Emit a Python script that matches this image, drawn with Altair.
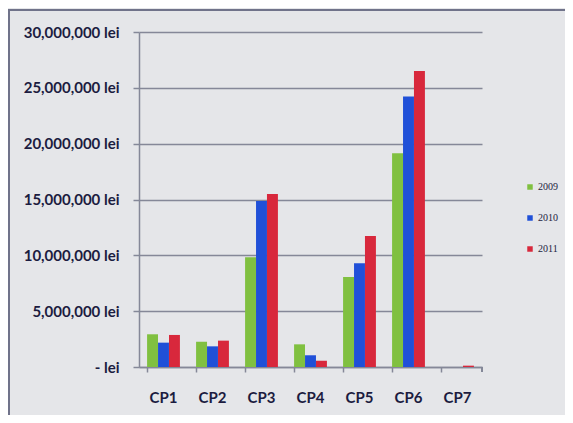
import altair as alt
import pandas as pd

categories = ["CP1", "CP2", "CP3", "CP4", "CP5", "CP6", "CP7"]
years = ["2009", "2010", "2011"]
v2009 = [2930000, 2270000, 9830000, 2030000, 8060000, 19150000, 0]
v2010 = [2180000, 1850000, 14870000, 1050000, 9290000, 24220000, 0]
v2011 = [2870000, 2360000, 15500000, 560000, 11740000, 26500000, 120000]
colors = ["#80c040", "#2050d8", "#d8283c"]

rows = []
for yr, vals in zip(years, [v2009, v2010, v2011]):
    for c, v in zip(categories, vals):
        rows.append({"cat": c, "year": yr, "value": v})
df = pd.DataFrame(rows)

FONT = "Lato"
TXT = "#1c1c40"
GRID = "#858898"

bars = alt.Chart(df).mark_bar().encode(
    x=alt.X("cat:N", sort=categories, title=None,
            scale=alt.Scale(paddingInner=0.33, paddingOuter=0.165),
            axis=alt.Axis(labelAngle=0, labelFont=FONT, labelFontSize=15,
                          labelFontWeight="bold", labelColor=TXT, labelPadding=18,
                          domainColor=GRID, domainWidth=1.5, tickColor=GRID,
                          tickSize=5, tickWidth=1.5, bandPosition=0, grid=False)),
    xOffset=alt.XOffset("year:N", sort=years),
    y=alt.Y("value:Q", title=None,
            scale=alt.Scale(domain=[0, 30000000]),
            axis=alt.Axis(values=[0, 5000000, 10000000, 15000000, 20000000, 25000000, 30000000],
                          labelExpr="datum.value == 0 ? '- lei' : format(datum.value, ',') + ' lei'",
                          labelFont=FONT, labelFontSize=15, labelFontWeight="bold",
                          labelColor=TXT, labelPadding=14, tickSize=6, tickColor=GRID,
                          tickWidth=1.5, domainColor=GRID, domainWidth=1.5,
                          grid=True, gridColor=GRID, gridWidth=1.5)),
    color=alt.Color("year:N", sort=years,
                    scale=alt.Scale(domain=years, range=colors),
                    legend=alt.Legend(title=None, orient="none", legendX=386, legendY=150,
                                      symbolType="square", symbolSize=30, symbolStrokeWidth=0,
                                      labelFont="Liberation Serif", labelFontSize=10,
                                      labelColor=TXT, rowPadding=21, labelOffset=3)),
)

end_tick = alt.Chart(df).mark_rule(color=GRID, strokeWidth=1.5).encode(
    x=alt.value(343), y=alt.value(335), y2=alt.value(340))
frame_top = alt.Chart(df).mark_rule(color="#70738a", strokeWidth=2).encode(
    x=alt.value(-131), x2=alt.value(430), y=alt.value(-22))
frame_left = alt.Chart(df).mark_rule(color="#70738a", strokeWidth=2).encode(
    x=alt.value(-130), y=alt.value(-23), y2=alt.value(390))

chart = alt.layer(bars, end_tick, frame_top, frame_left).properties(
    width=343, height=335,
    padding={"left": 131, "top": 24, "right": 83, "bottom": 48},
    autosize=alt.AutoSizeParams(type="none"),
    background="#e5e6e9",
).configure_view(stroke=None)

chart.save("out.html", embed_options={"renderer": "svg", "actions": False})
